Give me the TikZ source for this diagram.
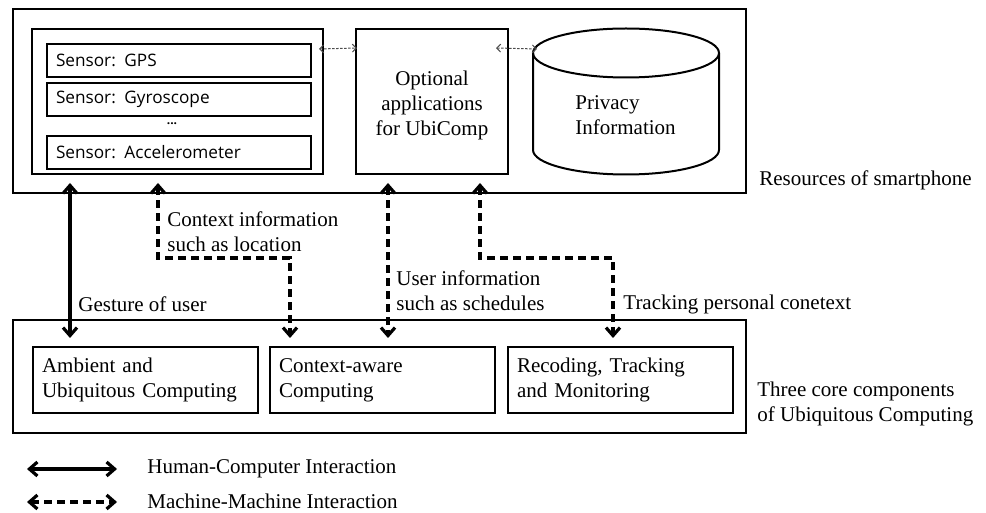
\documentclass[tikz,border=0pt]{standalone}
\usepackage{fontspec}
\setmainfont{Liberation Serif}
\newfontfamily\sensorfont{Open Sans}
\usetikzlibrary{arrows.meta,fit,calc}

\begin{document}
\begin{tikzpicture}[x=0.5pt,y=-0.5pt,
  frame/.style={draw, line width=1pt, inner sep=0pt},
  sensorbox/.style={draw, line width=1pt, anchor=north west, inner xsep=4.5pt,
    inner ysep=0pt, minimum height=16.5pt, text width=123pt, align=left,
    font=\sensorfont\fontsize{8.6}{10}\selectfont},
  corebox/.style={draw, line width=1pt, anchor=north west, inner xsep=4.5pt,
    inner ysep=0pt, minimum height=33pt, text width=103.5pt, align=left,
    font=\fontsize{10.5}{12.5}\selectfont},
  label/.style={inner sep=0pt, align=left, font=\fontsize{10.5}{12.5}\selectfont},
  >={Straight Barb[length=4pt,width=7pt]},
  hci/.style={<->, line width=1.6pt},
  mmi/.style={<->, line width=1.6pt, dash pattern=on 4pt off 2.5pt},
  mmismall/.style={{Straight Barb[length=2pt,width=4pt]}-{Straight Barb[length=2pt,width=4pt]},
    line width=0.5pt, draw=black!70, dash pattern=on 1.2pt off 0.8pt}
]
\useasboundingbox (0,0) rectangle (986,513);

% ---- resources of the smartphone ----
\node[frame, fit={(13,9) (746,193)}] (phone) {};
\node[frame, fit={(32,29) (323,174)}] (sensors) {};
\node[sensorbox] (gps) at (46,43) {Sensor: GPS};
\node[sensorbox] (gyro) at (46,82) {Sensor: Gyroscope};
\node[inner sep=0pt, font=\sensorfont\fontsize{6}{7}\selectfont] (dots) at (172,124) {\textbf{...}};
\node[sensorbox] (accel) at (46,135) {Sensor: Accelerometer};

\node[frame, fit={(356,29) (508,174)}] (apps) {};
\node[label, align=center] (appstext) at (432,105) {Optional\\applications\\for UbiComp};

% privacy database drawn as a cylinder
\draw[line width=1pt] (626,53) ellipse [x radius=93, y radius=24.5];
\draw[line width=1pt] (533,53) -- (533,150) (719,150) arc[start angle=0, end angle=180, x radius=93, y radius=24.5]
  (719,150) -- (719,53);
\coordinate (db) at (533,49);
\node[label, anchor=west] (privacy) at (575,115.5) {Privacy\\Information};

\draw[mmismall] ($(gps.north east)+(7,6)$) -- ($(apps.north west)+(2,20)$);
\draw[mmismall] ($(apps.north east)+(-13,20)$) -- ($(db)+(4,0)$);

\node[label, anchor=west] (res) at (759,180) {Resources of smartphone};

% ---- core components ----
\node[frame, fit={(13,320) (746,433)}] (core) {};
\node[corebox] (ambient) at (32,346) {Ambient and\\Ubiquitous Computing};
\node[corebox] (context) at (269,346) {Context-aware\\Computing};
\node[corebox] (track) at (507,346) {Recoding, Tracking\\and Monitoring};
\node[label, anchor=west] (three) at (757,403.5) {Three core components\\of Ubiquitous Computing};

% ---- interactions between the two layers ----
\coordinate (g1) at (70,183);   \coordinate (g2) at (70,338);
\coordinate (c1) at (158,183);  \coordinate (c2) at (290,338);
\coordinate (u1) at (388,183);  \coordinate (u2) at (388,338);
\coordinate (t1) at (480,183);  \coordinate (t2) at (613,338);

\draw[hci] (g1) -- (g2);
\draw[mmi] (c1) |- (290,258) -- (c2);
\draw[mmi] (u1) -- (u2);
\draw[mmi] (t1) |- (613,258) -- (t2);

\node[label, anchor=west] (gesture) at (78,304) {Gesture of user};
\node[label, anchor=west] (ctxinfo) at (167,231.5) {Context information\\such as location};
\node[label, anchor=west] (userinfo) at (396,290.5) {User information\\such as schedules};
\node[label, anchor=west] (tracking) at (623,304) {Tracking personal conetext};

% ---- legend ----
\coordinate (l1a) at (27,469);  \coordinate (l1b) at (117,469);
\coordinate (l2a) at (27,502);  \coordinate (l2b) at (117,502);
\draw[hci] (l1a) -- (l1b);
\draw[mmi] (l2a) -- (l2b);
\node[label, anchor=west] (leg1) at (147,469) {Human-Computer Interaction};
\node[label, anchor=west] (leg2) at (147,501) {Machine-Machine Interaction};
\end{tikzpicture}
\end{document}
